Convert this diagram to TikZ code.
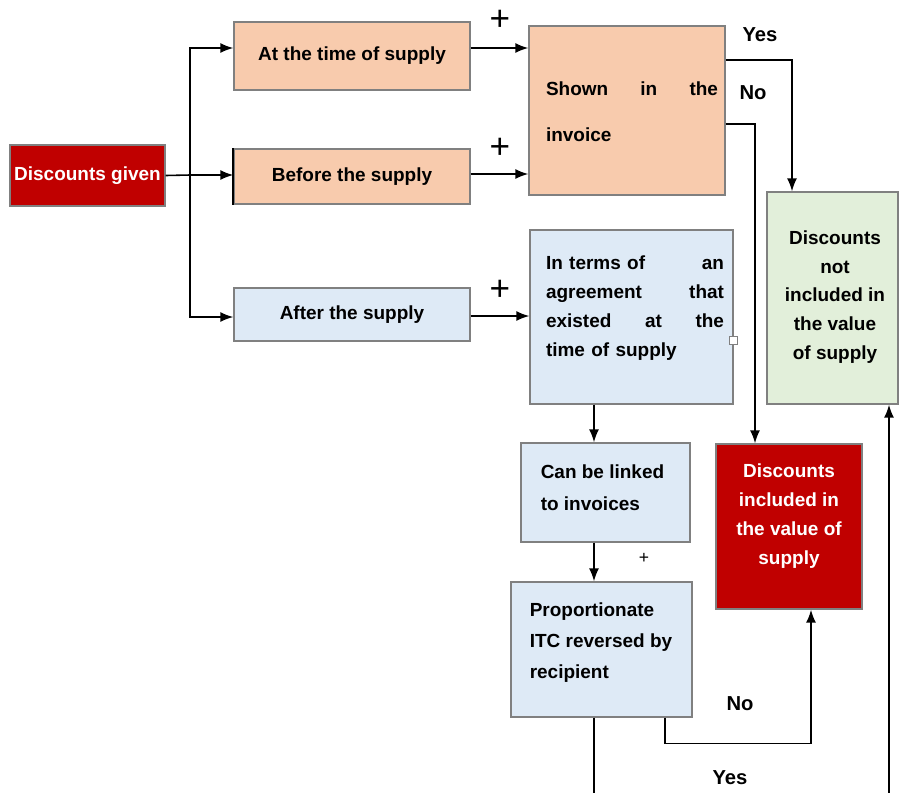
\documentclass[tikz,border=0pt]{standalone}
\usepackage{fontspec}
\setmainfont{Liberation Sans}
\usetikzlibrary{positioning, calc, arrows.meta}

\definecolor{peach}{HTML}{F8CBAD}
\definecolor{paleblue}{HTML}{DEEAF6}
\definecolor{palegreen}{HTML}{E2EFDA}
\definecolor{darkred}{HTML}{C00000}
\definecolor{edge}{HTML}{808080}

\begin{document}
\begin{tikzpicture}[x=0.02cm, y=-0.02cm,
    box/.style={draw=edge, line width=0.8pt, inner sep=0pt},
    txt/.style={font=\bfseries\fontsize{10.8}{16.4}\selectfont, inner sep=0pt},
    tag/.style={font=\bfseries\fontsize{11.5}{13}\selectfont, inner sep=0pt},
    plus/.style={font=\fontsize{20}{20}\selectfont, inner sep=0pt},
    >={Latex[length=2.6mm, width=2mm]}, line width=0.9pt]
    \path[use as bounding box, clip] (0,0) rectangle (899,792);

    \node[box, fill=darkred, minimum width=3.1cm, minimum height=1.22cm, txt, text=white] (given) at (87.5,175.5) {Discounts given};
    \node[box, fill=peach, minimum width=4.72cm, minimum height=1.36cm, txt] (atTime) at (352,56) {At the time of supply};
    \node[box, fill=peach, minimum width=4.72cm, minimum height=1.1cm, txt] (before) at (352,176.5) {Before the supply};
    \node[box, fill=paleblue, minimum width=4.72cm, minimum height=1.06cm, txt] (after) at (352,314.5) {After the supply};
    \draw[line width=1.3pt] (before.north west) -- (before.south west);

    \node[box, fill=peach, minimum width=3.92cm, minimum height=3.38cm] (shown) at (627,110.5) {};
    \node[txt, text width=3.44cm, align=left, font=\bfseries\fontsize{10.8}{26}\selectfont] (shownTxt) at (632,112) {Shown\hfill in\hfill the\\invoice};

    \node[box, fill=paleblue, minimum width=4.06cm, minimum height=3.48cm] (agree) at (631.5,317) {};
    \node[txt, text width=3.56cm, align=left] (agreeTxt) at (635,308) {In terms of\hfill an\\agreement\hfill that\\existed\hfill at\hfill the\\time of supply};
    \draw[edge, line width=0.5pt, fill=white] (729,336) rectangle (737,344);

    \node[box, fill=palegreen, minimum width=2.62cm, minimum height=4.24cm] (notIncl) at (832.5,298) {};
    \node[txt, align=center] (notInclTxt) at (835,297) {Discounts\\not\\included in\\the value\\of supply};

    \node[box, fill=paleblue, minimum width=3.38cm, minimum height=1.98cm] (linked) at (605.5,492.5) {};
    \node[txt, align=left, anchor=west, font=\bfseries\fontsize{10.8}{18}\selectfont] (linkedTxt) at (540,488) {Can be linked\\to invoices};

    \node[box, fill=paleblue, minimum width=3.62cm, minimum height=2.7cm] (prop) at (601.5,649.5) {};
    \node[txt, align=left, anchor=west, font=\bfseries\fontsize{10.8}{17.6}\selectfont] (propTxt) at (529,643) {Proportionate\\ITC reversed by\\recipient};

    \node[box, fill=darkred, minimum width=2.92cm, minimum height=3.3cm] (incl) at (789,526.5) {};
    \node[txt, align=center, text=white] (inclTxt) at (789,516) {Discounts\\included in\\the value of\\supply};

    \coordinate (fork) at (190,175);

    \draw (given.east) -- (fork);
    \draw[->] (fork) |- (atTime.west |- 0,48);
    \draw[->] (fork) -- (before.west |- fork);
    \draw[->] (fork) |- (after.west |- 0,317);

    \draw[->] (atTime.east |- 0,48) -- (shown.west |- 0,48);
    \draw[->] (before.east |- 0,174) -- (shown.west |- 0,174);
    \draw[->] (after.east |- 0,316) -- (agree.west |- 0,316);

    \draw[->] (shown.east |- 0,60) -| (notIncl.north -| 792,0);
    \draw[->] (shown.east |- 0,124) -| (incl.north -| 755,0);

    \draw[->] (agree.south -| 594,0) -- (linked.north -| 594,0);
    \draw[->] (linked.south -| 594,0) -- (prop.north -| 594,0);

    \draw[->] (prop.south -| 665,0) -- ++(0,26) -| (incl.south -| 811,0);
    \draw[->] (prop.south -| 594,0) -- (594,810) -| (notIncl.south -| 889,0);

    \node[plus] (plusA) at (500,20) {+};
    \node[plus] (plusB) at (500,148) {+};
    \node[plus] (plusC) at (500,290) {+};
    \node[font=\fontsize{10}{10}\selectfont, inner sep=0pt] (plusD) at (644,558) {+};

    \node[tag] (yesA) at (760,35) {Yes};
    \node[tag] (noA) at (753,93) {No};
    \node[tag] (noB) at (740,704) {No};
    \node[tag] (yesB) at (730,778) {Yes};
\end{tikzpicture}
\end{document}
